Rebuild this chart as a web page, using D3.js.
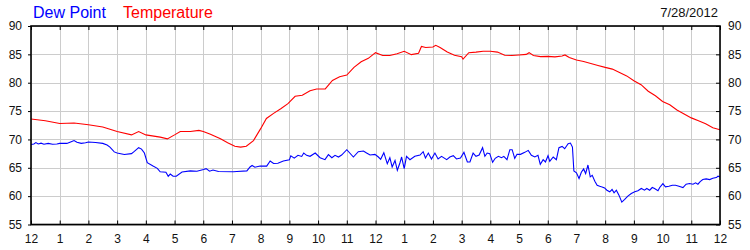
<!DOCTYPE html>
<html>
<head>
<meta charset="utf-8">
<script src="https://cdn.jsdelivr.net/npm/d3@7"></script>
<style>
  body { margin: 0; background: #fff; }
  svg { display: block; font-family: "Liberation Sans", Arial, sans-serif; }
  .axis path { display: none; }
  .axis line { stroke: #000; }
  .axis text { font-size: 12px; fill: #111; }
</style>
</head>
<body>
<script>
// hour ticks, 12am to 12am
var hourLabels = ["12","1","2","3","4","5","6","7","8","9","10","11",
                  "12","1","2","3","4","5","6","7","8","9","10","11","12"];
var yTicks = [55, 60, 65, 70, 75, 80, 85, 90];

var tempHours = [0,0.5,1,1.5,2,2.5,3,3.5,3.75,4,4.5,4.75,5,5.2,5.55,5.85,6,6.25,6.6,6.85,7.1,7.3,7.5,7.75,
  8,8.2,8.45,8.7,8.95,9.2,9.45,9.72,9.95,10.25,10.5,10.75,11,11.25,11.5,11.75,12,12.25,12.5,12.75,13,13.25,13.5,
  13.6,13.75,14,14.1,14.25,14.5,14.75,15,15.05,15.25,15.5,15.75,16,16.25,16.5,16.75,17,17.25,17.35,17.5,17.75,
  18,18.25,18.5,18.6,18.75,19,19.25,19.5,19.75,20,20.25,20.5,20.75,21,21.25,21.5,21.75,22,22.25,22.5,22.75,
  23,23.25,23.5,23.75,24];
var temperature = [73.6,73.3,72.8,72.9,72.6,72.2,71.4,70.8,71.4,70.8,70.4,70.1,70.8,71.4,71.4,71.6,71.4,70.9,70.1,69.4,68.8,68.65,68.8,69.8,
  71.9,73.7,74.6,75.4,76.3,77.6,77.8,78.6,78.9,78.9,80.4,81.05,81.35,82.7,83.7,84.3,85.3,84.8,84.8,85.1,85.55,84.95,85.2,
  86.4,86.2,86.3,86.6,86.2,85.4,84.85,84.6,84.15,85.3,85.4,85.55,85.55,85.4,84.85,84.8,84.9,85.0,85.3,84.8,84.6,
  84.65,84.55,84.7,84.9,84.45,84.0,83.75,83.4,83.05,82.7,82.4,81.8,81.2,80.35,79.65,78.5,77.7,76.7,76.1,75.2,74.5,
  73.8,73.3,72.75,72.05,71.7];

var dewHours = [0,0.1,0.17,0.25,0.35,0.45,0.6,0.75,0.9,1,1.25,1.4,1.5,1.6,1.75,1.9,2,2.25,2.5,2.65,2.75,2.9,3,3.25,3.5,3.6,
  3.75,3.85,3.95,4.05,4.25,4.4,4.5,4.7,4.78,4.85,4.95,5.06,5.26,5.55,5.78,6.01,6.1,6.22,6.34,6.53,7.05,7.17,7.52,
  7.63,7.7,7.8,7.98,8.21,8.33,8.45,8.6,8.79,9,9.05,9.17,9.3,9.43,9.5,9.6,9.72,9.9,10.07,10.24,10.36,10.48,10.59,10.71,
  10.82,11,11.23,11.4,11.58,11.69,11.81,11.98,12.1,12.18,12.29,12.41,12.5,12.58,12.68,12.76,12.85,12.91,13,13.08,
  13.2,13.37,13.55,13.66,13.74,13.84,13.95,14.07,14.18,14.3,14.48,14.59,14.71,14.82,14.96,15.08,15.2,15.29,15.4,
  15.5,15.61,15.73,15.81,15.89,15.98,16.08,16.17,16.28,16.39,16.47,16.58,16.68,16.76,16.85,16.93,17.05,17.2,17.32,
  17.43,17.55,17.66,17.74,17.84,17.92,18.01,18.07,18.19,18.3,18.39,18.5,18.59,18.71,18.79,18.86,18.91,19,19.09,
  19.17,19.25,19.32,19.4,19.48,19.55,19.64,19.72,19.81,19.87,19.98,20.06,20.16,20.24,20.31,20.39,20.48,20.58,20.68,
  20.79,20.91,21.03,21.14,21.26,21.37,21.45,21.55,21.64,21.72,21.84,21.9,22.01,22.1,22.22,22.34,22.45,22.57,22.71,
  22.82,22.94,23.06,23.15,23.23,23.31,23.4,23.52,23.64,23.75,23.87,23.93,24];
var dewPoint = [69.1,69.2,69.45,69.2,69.35,69.15,69.3,69.15,69.2,69.3,69.3,69.6,69.8,69.5,69.3,69.4,69.55,69.45,69.3,69.0,68.65,67.8,67.6,67.35,67.5,67.9,
  68.55,68.3,67.6,65.9,65.3,64.9,64.3,64.2,63.5,63.9,63.5,63.5,64.25,64.45,64.4,64.7,64.85,64.4,64.6,64.35,64.3,64.35,64.45,
  65.15,65.4,65.1,65.3,65.3,66.2,65.75,65.8,66.2,66.4,67.1,66.7,67.2,67.0,67.6,67.2,67.02,67.6,66.78,66.43,67.31,66.78,67.19,66.9,
  67.25,68.19,66.9,67.84,67.95,67.6,67.25,67.37,66.9,66.49,67.66,65.73,66.78,65.15,66.3,64.56,65.85,66.9,64.85,67.02,
  66.43,67.02,67.25,67.84,66.72,67.6,66.55,67.6,66.55,67.02,66.43,66.9,67.13,66.55,66.72,67.72,66.02,66.02,67.6,
  67.02,67.25,68.54,67.02,67.6,67.5,65.96,66.67,67.02,66.78,67.02,66.43,68.19,68.19,66.67,67.37,67.37,67.72,68.07,
  67.19,66.9,67.19,65.61,66.43,66.02,67.13,66.14,66.9,66.43,68.54,68.77,68.36,69.24,69.36,68.65,64.44,64.1,63.1,
  64.21,64.8,63.98,65.49,63.4,63.68,62.63,61.93,61.75,61.64,61.46,61.05,60.76,61.17,60.58,61.05,60.18,58.95,59.42,
  60.0,60.47,60.76,60.94,61.35,61.05,61.35,61.05,61.52,61.35,60.94,61.52,62.22,61.64,61.75,61.93,61.93,61.75,61.52,
  62.11,62.22,62.11,62.34,62.11,62.57,62.92,63.04,62.92,63.16,63.27,63.51,63.4];

var width = 750, height = 250;
var plotLeft = 31, plotRight = 720, plotTop = 26, plotBottom = 224.5;

var svg = d3.select("body").append("svg")
  .attr("width", width)
  .attr("height", height);

var x = d3.scaleLinear().domain([0, 24]).range([plotLeft, plotRight]);
var y = d3.scaleLinear().domain([55, 90]).range([plotBottom, plotTop]);

// grid
svg.append("g").selectAll("line")
    .data(d3.range(0, 25))
  .enter().append("line")
    .attr("x1", function(d){ return Math.round(x(d)) + 0.5; })
    .attr("x2", function(d){ return Math.round(x(d)) + 0.5; })
    .attr("y1", plotTop).attr("y2", plotBottom)
    .style("stroke", "#cccccc");
svg.append("g").selectAll("line")
    .data(yTicks)
  .enter().append("line")
    .attr("y1", function(d){ return Math.round(y(d)) + 0.5; })
    .attr("y2", function(d){ return Math.round(y(d)) + 0.5; })
    .attr("x1", plotLeft).attr("x2", plotRight)
    .style("stroke", "#cccccc");

// axes
svg.append("g").attr("class", "axis")
  .attr("transform", "translate(" + plotLeft + ",0)")
  .call(d3.axisLeft(y).tickValues(yTicks).tickSize(3).tickPadding(6));
svg.append("g").attr("class", "axis")
  .attr("transform", "translate(" + plotRight + ",0)")
  .call(d3.axisRight(y).tickValues(yTicks).tickSize(-4).tickPadding(8));
svg.append("g").attr("class", "axis")
  .attr("transform", "translate(0," + plotBottom + ")")
  .call(d3.axisBottom(x).tickValues(d3.range(0, 25)).tickSize(-4).tickPadding(9.5)
    .tickFormat(function(d){ return hourLabels[d]; }));
svg.append("g").attr("class", "axis")
  .attr("transform", "translate(0," + plotTop + ")")
  .call(d3.axisTop(x).tickValues(d3.range(0, 25)).tickSize(-4).tickFormat(""));

svg.append("clipPath").attr("id", "plot")
  .append("rect").attr("x", plotLeft).attr("y", plotTop)
  .attr("width", plotRight - plotLeft).attr("height", plotBottom - plotTop);

var line = d3.line()
  .x(function(d){ return x(d[0]); })
  .y(function(d){ return y(d[1]); });

svg.append("path")
  .datum(d3.zip(tempHours, temperature))
  .attr("clip-path", "url(#plot)")
  .attr("d", line)
  .style("fill", "none").style("stroke", "#ff0000").style("stroke-width", 1.1);

svg.append("path")
  .datum(d3.zip(dewHours, dewPoint))
  .attr("clip-path", "url(#plot)")
  .attr("d", line)
  .style("fill", "none").style("stroke", "#0000ff").style("stroke-width", 1.1);

// frame
svg.append("rect")
  .attr("x", plotLeft).attr("y", plotTop)
  .attr("width", plotRight - plotLeft).attr("height", plotBottom - plotTop)
  .style("fill", "none").style("stroke", "#000").style("stroke-width", 1.6);

// legend + date
svg.append("text").attr("x", 33).attr("y", 17.5)
  .style("font-size", "16px").style("fill", "#0000ff").text("Dew Point");
svg.append("text").attr("x", 123).attr("y", 17.5)
  .style("font-size", "16px").style("fill", "#ff0000").text("Temperature");
svg.append("text").attr("x", 718).attr("y", 17.3)
  .attr("text-anchor", "end")
  .style("font-size", "13px").style("fill", "#111").text("7/28/2012");
</script>
</body>
</html>
